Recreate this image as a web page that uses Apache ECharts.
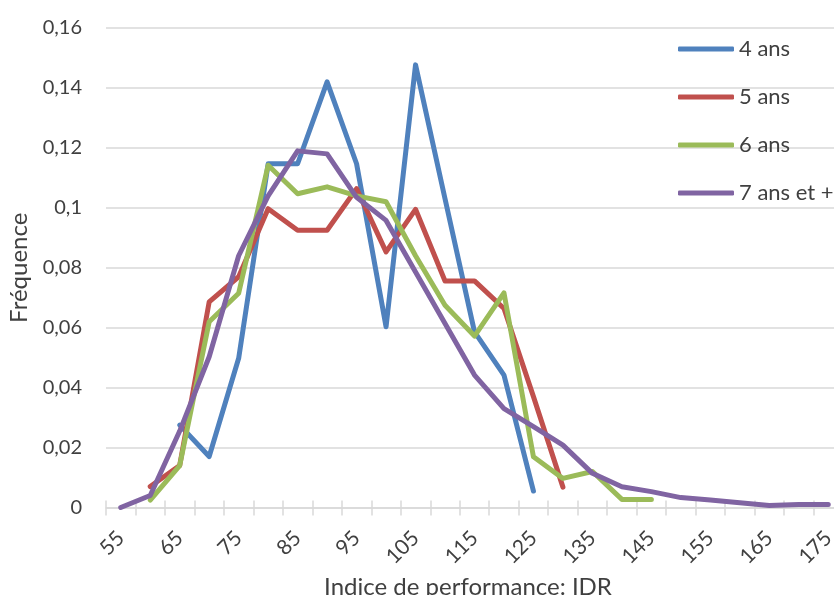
<!DOCTYPE html>
<html>
<head>
<meta charset="utf-8">
<script src="https://cdn.jsdelivr.net/npm/echarts@6/dist/echarts.min.js"></script>
<style>
  html, body { margin: 0; padding: 0; background: #ffffff; }
  #chart { width: 834px; height: 595px; }
</style>
</head>
<body>
<div id="chart"></div>
<script>
// Categories (Indice de performance: IDR)
const categories = ['55','60','65','70','75','80','85','90','95','100','105','110','115','120','125','130','135','140','145','150','155','160','165','170','175'];

// Series values (Fréquence), null where the series has no point
const ans4 = [null, null, 0.0275, 0.017, 0.0498, 0.1147, 0.1147, 0.142, 0.1147, 0.0603, 0.1477, 0.103, 0.0586, 0.0442, 0.0055];
const ans5 = [null, 0.007, 0.014, 0.0686, 0.077, 0.0997, 0.0925, 0.0925, 0.1064, 0.0853, 0.0995, 0.0756, 0.0756, 0.0664, 0.037, 0.0068];
const ans6 = [null, 0.0025, 0.014, 0.062, 0.0715, 0.1142, 0.1047, 0.107, 0.104, 0.102, 0.084, 0.0675, 0.0572, 0.0716, 0.0169, 0.0097, 0.012, 0.0027, 0.0027];
const ans7 = [0, 0.004, 0.0255, 0.0503, 0.084, 0.104, 0.119, 0.118, 0.1035, 0.0958, 0.0786, 0.0614, 0.0442, 0.033, 0.027, 0.0208, 0.0114, 0.0069, 0.0053, 0.0033, 0.0025, 0.0016, 0.0007, 0.001, 0.001];

const seriesNames = ['4 ans', '5 ans', '6 ans', '7 ans et +'];
const seriesData = [ans4, ans5, ans6, ans7];
const seriesColors = ['#4F81BD', '#C0504D', '#9BBB59', '#8064A2'];

// y-axis tick settings
const yMin = 0, yMax = 0.16, yStep = 0.02;

const FONT = 'Lato';
const TEXT = '#404040';
const GRIDC = '#d9d9d9';

const chart = echarts.init(document.getElementById('chart'), null, { renderer: 'canvas' });

const option = {
  animation: false,
  backgroundColor: '#ffffff',
  textStyle: { fontFamily: FONT },
  grid: { left: 106, top: 28, width: 737, height: 479.5, containLabel: false, outerBoundsMode: 'none' },
  legend: {
    orient: 'vertical',
    left: 678,
    top: 38,
    padding: 0,
    itemWidth: 56,
    itemHeight: 5,
    itemGap: 26,
    icon: 'roundRect',
    data: seriesNames,
    textStyle: { fontFamily: FONT, fontSize: 22, lineHeight: 22, color: TEXT }
  },
  xAxis: [
    {
      type: 'category',
      data: categories,
      boundaryGap: true,
      position: 'bottom',
      axisLine: { show: true, lineStyle: { color: GRIDC, width: 1.5 } },
      axisTick: { show: true, interval: 0, length: 8, lineStyle: { color: GRIDC, width: 1.5 } },
      axisLabel: { interval: 1, rotate: 45, margin: 27, fontFamily: FONT, fontSize: 21, color: TEXT },
      splitLine: { show: false },
      name: 'Indice de performance: IDR',
      nameLocation: 'middle',
      nameGap: 66,
      nameTextStyle: { fontFamily: FONT, fontSize: 24, color: TEXT, padding: [0, 13, 0, 0] }
    },
    {
      type: 'category',
      data: categories,
      boundaryGap: true,
      position: 'bottom',
      gridIndex: 0,
      axisLine: { show: false },
      axisTick: { show: true, inside: true, interval: 0, length: 7, lineStyle: { color: GRIDC, width: 1.5 } },
      axisLabel: { show: false },
      splitLine: { show: false }
    }
  ],
  yAxis: {
    type: 'value',
    min: yMin,
    max: yMax,
    interval: yStep,
    axisLine: { show: false },
    axisTick: { show: false },
    splitLine: { show: true, lineStyle: { color: GRIDC, width: 1.5 } },
    axisLabel: {
      margin: 24,
      fontFamily: FONT,
      fontSize: 20,
      color: TEXT,
      formatter: v => String(Number(v.toFixed(2))).replace('.', ',')
    },
    name: 'Fréquence',
    nameLocation: 'middle',
    nameRotate: 90,
    nameGap: 66,
    nameTextStyle: { fontFamily: FONT, fontSize: 24, color: TEXT }
  },
  series: seriesNames.map((n, i) => ({
    name: n,
    type: 'line',
    xAxisIndex: 0,
    data: seriesData[i],
    symbol: 'none',
    showSymbol: false,
    connectNulls: false,
    color: seriesColors[i],
    itemStyle: { color: seriesColors[i] },
    lineStyle: { color: seriesColors[i], width: 5, cap: 'round', join: 'round' }
  }))
};

chart.setOption(option);
</script>
</body>
</html>
